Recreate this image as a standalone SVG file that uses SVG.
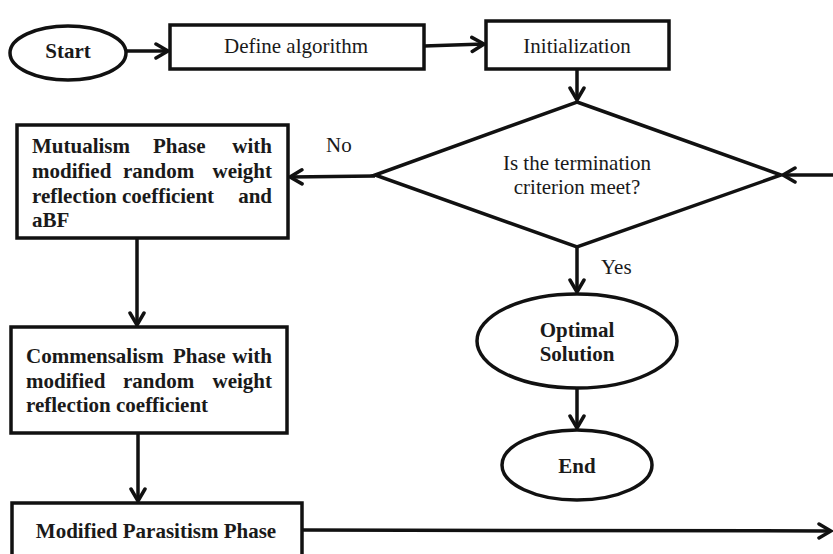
<svg xmlns="http://www.w3.org/2000/svg" width="833" height="554" viewBox="0 0 833 554">
<defs>
<marker id="arr" markerUnits="userSpaceOnUse" markerWidth="20" markerHeight="20" refX="14" refY="9" orient="auto">
<path d="M2,2 L14,9 L2,16" fill="none" stroke="#111" stroke-width="3.5" stroke-linejoin="miter" stroke-linecap="round"/>
</marker>
</defs>
<style>
.shape{fill:#fff;stroke:#111;stroke-width:3.5}
.edge{fill:none;stroke:#111;stroke-width:3.5;marker-end:url(#arr)}
text{font-family:"Liberation Serif","Times New Roman",serif;font-size:21px;fill:#1a1a1a}
.b{font-weight:bold}
.c{text-anchor:middle}
.e{text-anchor:end}
</style>
<rect width="833" height="554" fill="#fff"/>
<g id="connectors">
<line class="edge" x1="127" y1="51" x2="168" y2="51"/>
<line class="edge" x1="424" y1="46" x2="484" y2="44"/>
<line class="edge" x1="577" y1="69" x2="577" y2="100"/>
<line class="edge" x1="375" y1="176" x2="290" y2="177"/>
<line class="edge" x1="833" y1="175" x2="783" y2="175"/>
<line class="edge" x1="577" y1="247" x2="577" y2="292"/>
<line class="edge" x1="577" y1="388" x2="577" y2="428"/>
<line class="edge" x1="137" y1="238" x2="137" y2="325"/>
<line class="edge" x1="138" y1="433" x2="138" y2="501"/>
<line class="edge" x1="302" y1="530" x2="831" y2="531"/>
<text x="326" y="152">No</text>
<text x="601" y="274">Yes</text>
</g>
<g id="start">
<ellipse class="shape" cx="68" cy="53" rx="58" ry="27"/>
<text class="b c" x="68" y="58">Start</text>
</g>
<g id="define">
<rect class="shape" x="170" y="25" width="254" height="44"/>
<text class="c" x="296" y="53">Define algorithm</text>
</g>
<g id="init">
<rect class="shape" x="486" y="21" width="183" height="48"/>
<text class="c" x="577" y="53">Initialization</text>
</g>
<g id="decision">
<polygon class="shape" points="577,102 781,175 577,247 375,175"/>
<text class="c" x="577" y="170">Is the termination</text>
<text class="c" x="577" y="194">criterion meet?</text>
</g>
<g id="mutualism">
<rect class="shape" x="17" y="125" width="271" height="113"/>
<text class="b" y="153"><tspan x="32">Mutualism</tspan><tspan x="153">Phase</tspan><tspan x="272" class="e">with</tspan></text>
<text class="b" y="178"><tspan x="32">modified</tspan><tspan x="123">random</tspan><tspan x="272" class="e">weight</tspan></text>
<text class="b" y="203"><tspan x="32">reflection</tspan><tspan x="122">coefficient</tspan><tspan x="272" class="e">and</tspan></text>
<text class="b" x="32" y="227">aBF</text>
</g>
<g id="commensalism">
<rect class="shape" x="11" y="327" width="276" height="106"/>
<text class="b" y="363"><tspan x="26">Commensalism</tspan><tspan x="173">Phase</tspan><tspan x="272" class="e">with</tspan></text>
<text class="b" y="388"><tspan x="26">modified</tspan><tspan x="123">random</tspan><tspan x="272" class="e">weight</tspan></text>
<text class="b" x="26" y="412">reflection coefficient</text>
</g>
<g id="parasitism">
<rect class="shape" x="12" y="503" width="290" height="60"/>
<text class="b c" x="156" y="538">Modified Parasitism Phase</text>
</g>
<g id="optimal">
<ellipse class="shape" cx="577" cy="341" rx="100" ry="47"/>
<text class="b c" x="577" y="337">Optimal</text>
<text class="b c" x="577" y="361">Solution</text>
</g>
<g id="end">
<ellipse class="shape" cx="577" cy="465" rx="75" ry="35"/>
<text class="b c" x="577" y="473">End</text>
</g>
</svg>
